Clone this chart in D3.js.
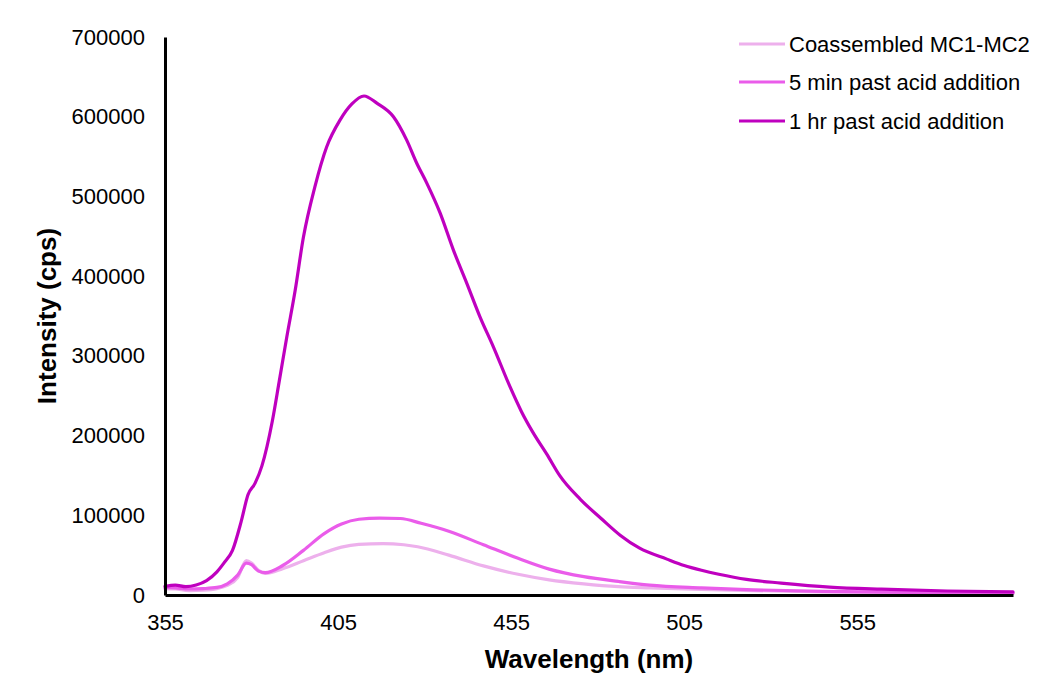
<!DOCTYPE html>
<html>
<head>
<meta charset="utf-8">
<script src="https://cdn.jsdelivr.net/npm/d3@7"></script>
<style>
  html, body { margin: 0; padding: 0; background: #fff; }
  svg text { font-family: "Liberation Sans", Arial, Helvetica, sans-serif; fill: #000; }
</style>
</head>
<body>
<svg id="chart" width="1045" height="695"></svg>
<script>
// ---- Data ----
const seriesNames = ["Coassembled MC1-MC2", "5 min past acid addition", "1 hr past acid addition"];
const seriesColors = ["#EDB0EC", "#EA5CEA", "#BF00BF"];

const coWl  = [355,358,362,366,370,373,376,378.5,380,382,384,389,395,401,406,411,418,424,428,437,447,457,466,476,486,495,510,525,545,570,600];
const coVal = [8000,7500,5500,6000,8000,12000,22000,43000,40000,31000,27000,33000,43000,53000,60000,63500,64500,63000,60500,50000,36500,26000,19000,14000,10500,9000,7000,5500,4000,2800,2000];

const m5Wl  = [355,358,362,366,370,373,376,378.5,380,382,384,389,395,401,406,411,417,423,429,437,447,457,466,476,486,495,510,525,545,570,600];
const m5Val = [9500,9000,7500,8000,9500,14000,25000,40000,38000,30000,28000,37000,56000,77000,89000,95000,96500,96000,90000,80000,63000,46000,32500,23000,17000,12500,9000,6500,4500,3200,2500];

const h1Wl  = [355,358,361,364,367,370,372,374.5,377,379,381,383,386,388,390.2,392.6,395,398.3,401.7,405.6,409,412.5,416.2,421,424.8,427.7,430.6,434.5,438.3,442.2,446,449.9,454.7,458,461.3,465.4,469,475,481,486.5,492,500,505,510,515,523,533,547,562,581,600];
const h1Val = [11000,12500,10500,12500,18000,29000,40000,56000,92000,126000,140000,162000,218000,268000,324000,382000,449000,512000,562000,596000,616000,626000,617000,600000,571000,542000,517000,479000,433000,391000,349000,311000,261000,230000,204000,176000,150000,120000,96000,75000,59000,45000,37000,31000,26000,19500,15000,10000,7300,5000,3800];

const xTicks = [355, 405, 455, 505, 555];
const yTicks = [0, 100000, 200000, 300000, 400000, 500000, 600000, 700000];
const xDomain = [355, 600];
const yDomain = [0, 700000];

// ---- Drawing ----
const svg = d3.select("#chart");
const x = d3.scaleLinear().domain(xDomain).range([165, 1013]);
const y = d3.scaleLinear().domain(yDomain).range([595, 37]);

const series = [
  { name: seriesNames[0], color: seriesColors[0], pts: coWl.map((w, i) => [w, coVal[i]]) },
  { name: seriesNames[1], color: seriesColors[1], pts: m5Wl.map((w, i) => [w, m5Val[i]]) },
  { name: seriesNames[2], color: seriesColors[2], pts: h1Wl.map((w, i) => [w, h1Val[i]]) }
];

const line = d3.line().x(d => x(d[0])).y(d => y(d[1])).curve(d3.curveMonotoneX);

svg.append("g").selectAll("path").data(series).join("path")
  .attr("d", d => line(d.pts))
  .attr("fill", "none")
  .attr("stroke", d => d.color)
  .attr("stroke-width", 3.2)
  .attr("stroke-linejoin", "round")
  .attr("stroke-linecap", "round");

// axes
const xAxis = svg.append("g").attr("transform", "translate(0,595)")
  .call(d3.axisBottom(x).tickValues(xTicks).tickFormat(d3.format("d")).tickSize(0).tickSizeOuter(0).tickPadding(19));
const yAxis = svg.append("g").attr("transform", "translate(165,0)")
  .call(d3.axisLeft(y).tickValues(yTicks).tickFormat(d3.format("d")).tickSize(0).tickSizeOuter(0).tickPadding(20));

[xAxis, yAxis].forEach(g => {
  g.select(".domain").attr("stroke", "#000").attr("stroke-width", 3);
  g.selectAll("text").attr("font-size", 22).attr("font-family", "'Liberation Sans', Arial, sans-serif").attr("fill", "#000");
});

// axis titles
svg.append("text")
  .attr("x", 589).attr("y", 668)
  .attr("text-anchor", "middle")
  .attr("font-size", 26).attr("font-weight", "bold")
  .text("Wavelength (nm)");

svg.append("text")
  .attr("transform", "translate(56,316) rotate(-90)")
  .attr("text-anchor", "middle")
  .attr("font-size", 26).attr("font-weight", "bold")
  .text("Intensity (cps)");

// legend
const legendY = [44, 82, 121];
const lg = svg.append("g");
series.forEach((s, i) => {
  lg.append("line")
    .attr("x1", 739).attr("x2", 785)
    .attr("y1", legendY[i]).attr("y2", legendY[i])
    .attr("stroke", s.color).attr("stroke-width", 3.2);
  lg.append("text")
    .attr("x", 789).attr("y", legendY[i])
    .attr("dy", "0.35em")
    .attr("font-size", 22)
    .text(s.name);
});
</script>
</body>
</html>
